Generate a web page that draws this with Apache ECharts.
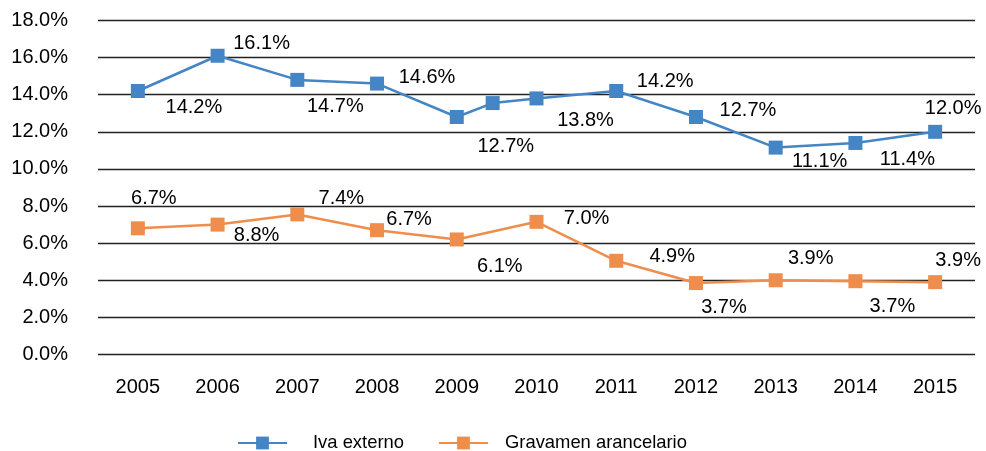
<!DOCTYPE html>
<html>
<head>
<meta charset="utf-8">
<script src="https://cdn.jsdelivr.net/npm/echarts@6/dist/echarts.min.js"></script>
<style>html,body{margin:0;padding:0;background:#fff;}#c{width:986px;height:451px;}</style>
</head>
<body>
<div id="c"></div>
<script>
var years = ['2005','2006','2007','2008','2009','2010','2011','2012','2013','2014','2015'];
var yTicks = [0, 2, 4, 6, 8, 10, 12, 14, 16, 18];

var ivaName = 'Iva externo';
var ivaX = [2005, 2006, 2007, 2008, 2009, 2009.45, 2010, 2011, 2012, 2013, 2014, 2015];
var ivaValues = [14.2, 16.1, 14.8, 14.6, 12.8, 13.55, 13.8, 14.2, 12.8, 11.15, 11.4, 12.0];
var ivaLabels = ['14.2%', '16.1%', '14.7%', '14.6%', '12.7%', '', '13.8%', '14.2%', '12.7%', '11.1%', '11.4%', '12.0%'];

var gravName = 'Gravamen arancelario';
var gravX = [2005, 2006, 2007, 2008, 2009, 2010, 2011, 2012, 2013, 2014, 2015];
var gravValues = [6.8, 7.0, 7.55, 6.7, 6.2, 7.15, 5.05, 3.85, 4.0, 3.95, 3.9];
var gravLabels = ['6.7%', '8.8%', '7.4%', '6.7%', '6.1%', '7.0%', '4.9%', '3.7%', '3.9%', '3.7%', '3.9%'];

// label placement (style)
var ivaLabelOffsets = [[56,16],[44,-12],[38,27],[50,-6],[49,29],[0,0],[49,22],[49,-10],[52,-7],[44,14],[52,17],[18,-23]];
var gravLabelOffsets = [[16,-30],[39,11],[44,-16],[32,-11],[43,27],[50,-3],[56,-4],[28,24],[35,-22],[37,25],[23,-22]];

var FONT = "'Liberation Sans', Arial, sans-serif";
var BLUE = '#4485C5';
var ORANGE = '#EE8D4C';

function buildData(xs, vals, labels, offsets) {
  return vals.map(function (v, i) {
    return {
      value: [xs[i], v],
      label: { show: labels[i] !== '', formatter: labels[i], offset: offsets[i] }
    };
  });
}

var chart = echarts.init(document.getElementById('c'));
chart.setOption({
  animation: false,
  backgroundColor: '#fff',
  grid: { left: 98, right: 11, top: 20.5, bottom: 96.5, containLabel: false },
  legend: {
    data: [
      { name: ivaName, textStyle: { padding: [0, 0, 0, 21] } },
      { name: gravName, textStyle: { padding: [0, 0, 0, 12] } }
    ],
    left: 232, top: 429,
    itemWidth: 49, itemHeight: 16, itemGap: 34,
    textStyle: { fontFamily: FONT, fontSize: 18.4, color: '#000' }
  },
  xAxis: [
    {
      type: 'category', data: years, boundaryGap: true,
      axisLine: { show: false }, axisTick: { show: false },
      axisLabel: { margin: 23, fontFamily: FONT, fontSize: 20, color: '#000' },
      splitLine: { show: false }
    },
    {
      type: 'value', min: 2004.5, max: 2015.5, show: false
    }
  ],
  yAxis: {
    type: 'value', min: yTicks[0], max: yTicks[yTicks.length - 1], interval: yTicks[1] - yTicks[0],
    axisLine: { show: false }, axisTick: { show: false },
    axisLabel: { margin: 30, fontFamily: FONT, fontSize: 20, color: '#000',
      formatter: function (v) { return v.toFixed(1) + '%'; } },
    splitLine: { show: true, lineStyle: { color: '#222', width: 1.4 } }
  },
  series: [
    {
      name: ivaName, type: 'line', xAxisIndex: 1,
      data: buildData(ivaX, ivaValues, ivaLabels, ivaLabelOffsets),
      symbol: 'rect', symbolSize: 14, showAllSymbol: true,
      lineStyle: { color: BLUE, width: 2.5 }, itemStyle: { color: BLUE },
      label: { show: true, position: 'inside', fontFamily: FONT, fontSize: 20, color: '#000' },
      z: 3
    },
    {
      name: gravName, type: 'line', xAxisIndex: 1,
      data: buildData(gravX, gravValues, gravLabels, gravLabelOffsets),
      symbol: 'rect', symbolSize: 14, showAllSymbol: true,
      lineStyle: { color: ORANGE, width: 2.5 }, itemStyle: { color: ORANGE },
      label: { show: true, position: 'inside', fontFamily: FONT, fontSize: 20, color: '#000' },
      z: 3
    }
  ]
});
</script>
</body>
</html>
